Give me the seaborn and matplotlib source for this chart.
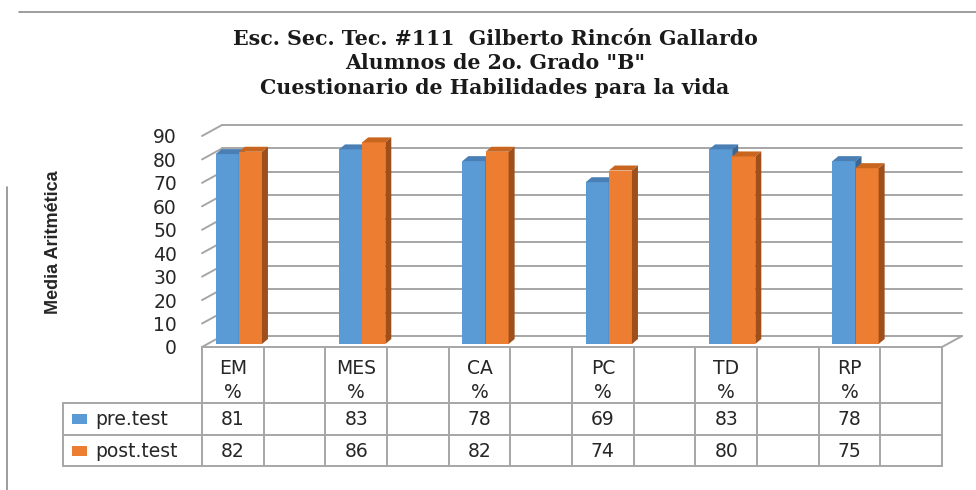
import numpy as np
import pandas as pd
import seaborn as sns
import matplotlib.pyplot as plt
from matplotlib.patches import Polygon, Rectangle
from matplotlib.lines import Line2D

# datos del cuestionario
escalas = ["EM", "MES", "CA", "PC", "TD", "RP"]
pre_test = [81, 83, 78, 69, 83, 78]
post_test = [82, 86, 82, 74, 80, 75]
pruebas = ["pre.test", "post.test"]
# columnas de la tabla (con columnas vacías entre escalas)
columnas = ["EM", "", "MES", "", "CA", "", "PC", "", "TD", "", "RP", ""]
marcas_y = [0, 10, 20, 30, 40, 50, 60, 70, 80, 90]

titulo = ["Esc. Sec. Tec. #111  Gilberto Rincón Gallardo",
          "Alumnos de 2o. Grado \"B\"",
          "Cuestionario de Habilidades para la vida"]

azul, naranja = "#5B9BD5", "#ED7D31"
azul_top, azul_lado = "#4A7FB5", "#3A6794"
nar_top, nar_lado = "#C8651F", "#9E4F1B"
gris = "#A6A6A6"

sns.set_style("white")
plt.rcParams['font.family'] = ['DejaVu Sans']
fs = 13.5

orden = [c if c else f"_{i}" for i, c in enumerate(columnas)]
df = pd.DataFrame({
    "escala": escalas * 2,
    "prueba": [pruebas[0]] * len(escalas) + [pruebas[1]] * len(escalas),
    "media": pre_test + post_test,
})

fig = plt.figure(figsize=(9.76, 4.9), dpi=100)
ax = fig.add_axes([202 / 976, 143 / 490, 740 / 976, 211 / 490])

sns.barplot(data=df, x="escala", y="media", hue="prueba", order=orden,
            hue_order=pruebas, palette=[azul, naranja], saturation=1,
            width=0.75, gap=0, linewidth=0, legend=False, ax=ax)

ax.set_xlim(-0.5, len(columnas) - 0.5)
ax.set_ylim(0, 90)
ax.set_xticks([])
ax.set_xlabel("")
ax.set_ylabel("")
ax.set_yticks(marcas_y)
ax.tick_params(axis="y", length=0, pad=18, labelsize=fs, labelcolor="#262626")
for s in ax.spines.values():
    s.set_visible(False)

# profundidad de la pared (efecto 3D)
px_x = 740 / len(columnas)
px_y = 211 / 90
DX, DY = 20 / px_x, 11 / px_y
x0, x1 = -0.5, len(columnas) - 0.5
for v in marcas_y:
    ax.plot([x0 + DX, x1 + DX], [v + DY, v + DY], color=gris, lw=1.4, clip_on=False, zorder=1)
    ax.plot([x0, x0 + DX], [v, v + DY], color=gris, lw=1.4, clip_on=False, zorder=1)
ax.plot([x0, x1, x1 + DX], [0, 0, DY], color=gris, lw=1.4, clip_on=False, zorder=1)

# barras con cara superior y lateral
sx, sy = 6 / px_x, 3 / px_y
bx, by = 6 / px_x, 5 / px_y
caras = [(azul_top, azul_lado), (nar_top, nar_lado)]
for k, cont in enumerate(ax.containers):
    for bar in cont:
        h = bar.get_height()
        if np.isnan(h):
            continue
        x = bar.get_x() + sx
        w = bar.get_width()
        bar.set_x(x)
        bar.set_y(sy)
        bar.set_zorder(3 + k)
        bar.set_clip_on(False)
        top = Polygon([(x, sy + h), (x + bx, sy + h + by), (x + w + bx, sy + h + by), (x + w, sy + h)],
                      closed=True, facecolor=caras[k][0], lw=0, zorder=3 + k, clip_on=False)
        lado = Polygon([(x + w, sy), (x + w + bx, sy + by), (x + w + bx, sy + h + by), (x + w, sy + h)],
                       closed=True, facecolor=caras[k][1], lw=0, zorder=3 + k, clip_on=False)
        ax.add_patch(top)
        ax.add_patch(lado)

# tabla de datos
tab = fig.add_axes([202 / 976, 24 / 490, 740 / 976, 119 / 490])
tab.set_xlim(x0, x1)
tab.set_ylim(119, 0)
tab.axis("off")
xl = x0 - 139 / px_x
for i in range(len(columnas) + 1):
    tab.plot([i - 0.5, i - 0.5], [0, 119], color=gris, lw=1.4, clip_on=False)
tab.plot([xl, xl], [56, 119], color=gris, lw=1.4, clip_on=False)
for yy in [56, 88, 119]:
    tab.plot([xl, x1], [yy, yy], color=gris, lw=1.4, clip_on=False)

txt = dict(ha="center", va="center", fontsize=fs, color="#262626")
vals = {"pre.test": dict(zip(escalas, pre_test)), "post.test": dict(zip(escalas, post_test))}
for i, c in enumerate(columnas):
    if not c:
        continue
    tab.text(i, 21, c, **txt)
    tab.text(i, 45, "%", **txt)
    tab.text(i, 72, str(vals["pre.test"][c]), **txt)
    tab.text(i, 104, str(vals["post.test"][c]), **txt)

for yy, nombre, col in [(72, pruebas[0], azul), (104, pruebas[1], naranja)]:
    tab.add_patch(Rectangle((x0 + (72 - 202) / px_x, yy - 5), 15 / px_x, 10,
                            facecolor=col, lw=0, clip_on=False))
    tab.text(x0 + (95 - 202) / px_x, yy, nombre, ha="left", va="center",
             fontsize=fs, color="#262626")

# etiqueta del eje y
fig.text(53 / 976, 1 - 242 / 490, "Media Aritmética", rotation=90, ha="center", va="center",
         fontsize=13, fontweight="bold", color="#262626",
         family=["Liberation Sans Narrow", "Liberation Sans", "DejaVu Sans"])

# título
for yy, linea in zip([39, 63, 88], titulo):
    fig.text(495 / 976, 1 - yy / 490, linea, ha="center", va="center", fontsize=14.8,
             fontweight="bold", family=["DejaVu Serif"], color="#1a1a1a")

# bordes del documento
fig.add_artist(Line2D([19 / 976, 1], [1 - 12 / 490] * 2, color="#8c8c8c", lw=1.2))
fig.add_artist(Line2D([7 / 976] * 2, [0, 1 - 187 / 490], color="#8c8c8c", lw=1.2))

fig.savefig("out.png", dpi=100)
